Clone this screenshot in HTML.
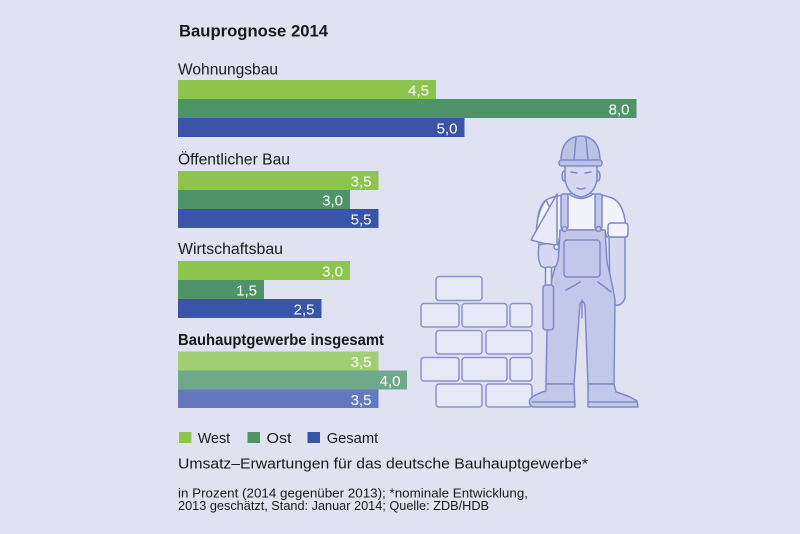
<!DOCTYPE html>
<html><head><meta charset="utf-8"><style>
html,body{margin:0;padding:0;background:#e0e1f1;}
svg{display:block;}
text{font-family:"Liberation Sans",sans-serif;}
</style></head><body>
<svg width="800" height="534" viewBox="0 0 800 534" xmlns="http://www.w3.org/2000/svg">
<rect x="0" y="0" width="800" height="534" fill="#e0e1f1"/>

<text x="179" y="36.5" font-size="17" font-weight="bold" fill="#1a1a1a" textLength="149" lengthAdjust="spacingAndGlyphs">Bauprognose 2014</text>

<text x="178" y="74.3" font-size="15.5" fill="#1a1a1a" textLength="100" lengthAdjust="spacingAndGlyphs">Wohnungsbau</text>
<rect x="178" y="80" width="258" height="19" fill="#8cc44e"/>
<rect x="178" y="99" width="458.5" height="19" fill="#4f9468"/>
<rect x="178" y="118" width="286.5" height="19" fill="#3a55a8"/>
<g font-size="15" fill="#ffffff" text-anchor="end">
<text x="429" y="95.5">4,5</text>
<text x="629.5" y="114.5">8,0</text>
<text x="457.5" y="133.5">5,0</text>
</g>

<text x="178" y="164.3" font-size="15.5" fill="#1a1a1a" textLength="112" lengthAdjust="spacingAndGlyphs">Öffentlicher Bau</text>
<rect x="178" y="171" width="200.5" height="19" fill="#8cc44e"/>
<rect x="178" y="190" width="172" height="19" fill="#4f9468"/>
<rect x="178" y="209" width="200.5" height="19" fill="#3a55a8"/>
<g font-size="15" fill="#ffffff" text-anchor="end">
<text x="371.5" y="186.5">3,5</text>
<text x="343" y="205.5">3,0</text>
<text x="371.5" y="224.5">5,5</text>
</g>

<text x="178" y="254" font-size="15.5" fill="#1a1a1a" textLength="105" lengthAdjust="spacingAndGlyphs">Wirtschaftsbau</text>
<rect x="178" y="261" width="172" height="19" fill="#8cc44e"/>
<rect x="178" y="280" width="86" height="19" fill="#4f9468"/>
<rect x="178" y="299" width="143.5" height="19" fill="#3a55a8"/>
<g font-size="15" fill="#ffffff" text-anchor="end">
<text x="343" y="276.5">3,0</text>
<text x="257" y="295.5">1,5</text>
<text x="314.5" y="314.5">2,5</text>
</g>

<text x="178" y="345" font-size="15.5" font-weight="bold" fill="#1a1a1a" textLength="206" lengthAdjust="spacingAndGlyphs">Bauhauptgewerbe insgesamt</text>
<rect x="178" y="351.5" width="200.5" height="19" fill="#a3cf74"/>
<rect x="178" y="370.5" width="229" height="19" fill="#70a98a"/>
<rect x="178" y="389.5" width="200.5" height="18.5" fill="#6478c0"/>
<g font-size="15" fill="#ffffff" text-anchor="end">
<text x="371.5" y="367">3,5</text>
<text x="400.5" y="386">4,0</text>
<text x="371.5" y="405">3,5</text>
</g>

<!-- legend -->
<rect x="179" y="432" width="12.5" height="11" fill="#8cc44e"/>
<text x="197.7" y="443" font-size="15" fill="#1a1a1a" textLength="32.5" lengthAdjust="spacingAndGlyphs">West</text>
<rect x="247.5" y="432" width="12.5" height="11" fill="#4f9468"/>
<text x="266.5" y="443" font-size="15" fill="#1a1a1a" textLength="25" lengthAdjust="spacingAndGlyphs">Ost</text>
<rect x="307.5" y="432" width="12.5" height="11" fill="#3a55a8"/>
<text x="326.7" y="443" font-size="15" fill="#1a1a1a" textLength="51.5" lengthAdjust="spacingAndGlyphs">Gesamt</text>

<text x="178" y="468.3" font-size="14.5" fill="#1a1a1a" textLength="410" lengthAdjust="spacingAndGlyphs">Umsatz–Erwartungen für das deutsche Bauhauptgewerbe*</text>
<text x="178" y="497.5" font-size="13" fill="#1a1a1a" textLength="350" lengthAdjust="spacingAndGlyphs">in Prozent (2014 gegenüber 2013); *nominale Entwicklung,</text>
<text x="178" y="510" font-size="13" fill="#1a1a1a" textLength="311" lengthAdjust="spacingAndGlyphs">2013 geschätzt, Stand: Januar 2014; Quelle: ZDB/HDB</text>

<!-- bricks -->
<g fill="#e7e8f6" stroke="#8a93cf" stroke-width="1.5">
<rect x="436" y="276.5" width="46" height="24" rx="3"/>
<rect x="421" y="303.5" width="38" height="23.5" rx="3"/>
<rect x="462" y="303.5" width="45" height="23.5" rx="3"/>
<rect x="510" y="303.5" width="22" height="23.5" rx="3"/>
<rect x="436" y="330.5" width="46" height="23.5" rx="3"/>
<rect x="486" y="330.5" width="46" height="23.5" rx="3"/>
<rect x="421" y="357.5" width="38" height="23.5" rx="3"/>
<rect x="462" y="357.5" width="45" height="23.5" rx="3"/>
<rect x="510" y="357.5" width="22" height="23.5" rx="3"/>
<rect x="436" y="384" width="46" height="23" rx="3"/>
<rect x="486" y="384" width="46" height="23" rx="3"/>
</g>

<!-- worker -->
<g stroke="#7f89c8" stroke-width="1.5" stroke-linejoin="round" stroke-linecap="round">
<!-- right arm hanging (viewer right) -->
<path d="M609,234 L625,234 L625,298 Q622,306 616,305 Q610,304 610,296 Z" fill="#d5d8f0"/>
<!-- shirt -->
<path d="M568,194 Q554,196 546,200 Q538,207 537,225 L539,245 L558,246 L561,230 L604,230 L607,237 L627,237 L625,220 Q622,202 612,198 Q601,194 593,194 Z" fill="#f2f3fb"/>
<!-- sleeve cuff -->
<rect x="608" y="223" width="20" height="14" rx="3" fill="#f2f3fb"/>
<!-- overalls -->
<path d="M560,230 L605,230 L607,262 Q612,282 615,300 L614,384 L588,384 L585,306 Q583,298 580,304 L574,384 L546,384 L547,330 Q546,300 550,285 Q556,266 559,250 Z" fill="#c3c8ea"/>
<path d="M566,290 Q574,286 580,282 M598,282 Q605,287 611,292 M582,300 L582,318" fill="none"/>
<!-- straps -->
<rect x="561" y="194" width="7" height="35" rx="2" fill="#c3c8ea"/>
<rect x="595" y="194" width="7" height="35" rx="2" fill="#c3c8ea"/>
<circle cx="564.5" cy="229" r="2.5" fill="#c3c8ea"/>
<circle cx="598.5" cy="229" r="2.5" fill="#c3c8ea"/>
<!-- pocket -->
<rect x="564" y="240" width="36" height="37" rx="3" fill="#c3c8ea"/>
<!-- collar / neck -->
<path d="M569,194 Q581,203 593,194" fill="#d5d8f0"/>
<!-- face -->
<ellipse cx="564.5" cy="176" rx="2.5" ry="5" fill="#d5d8f0"/>
<ellipse cx="597.5" cy="176" rx="2.5" ry="5" fill="#d5d8f0"/>
<path d="M565,162 L565,180 Q568,195 581,197 Q594,195 597,180 L597,162 Z" fill="#d5d8f0"/>
<path d="M571,172 L577,173 M585,173 L591,172 M577,188 Q581,190 585,188" fill="none"/>
<!-- helmet -->
<path d="M561,164 Q560,137 581,136 Q601,137 600,164 Z" fill="#bcc2e6"/>
<rect x="559" y="160" width="43" height="6" rx="2.5" fill="#bcc2e6"/>
<path d="M576,138 L574,160 M586,138 L588,160" fill="none"/>
<!-- left upper arm -->
<path d="M546,200 Q536,212 536,240 L546,244 L552,212 Z" fill="#f2f3fb"/>
<!-- trowel blade -->
<path d="M531,240 L557,194 L557,247 Z" fill="#e9eaf7"/>
<!-- hand -->
<path d="M539,245 Q537,258 541,266 Q547,270 556,266 Q560,258 558,246 Q548,242 539,245 Z" fill="#d5d8f0"/>
<circle cx="556.5" cy="247" r="2.5" fill="#e9eaf7"/>
<!-- hanging tool -->
<rect x="545.5" y="267" width="6" height="20" rx="2" fill="#e9eaf7"/>
<rect x="543" y="285" width="10.5" height="45" rx="3" fill="#c3c8ea"/>
<!-- boots -->
<path d="M546,384 L574,384 L575,407 L533,407 Q528,405 530,399 Q535,394 546,391 Z" fill="#c3c8ea"/>
<path d="M588,384 L614,384 L616,392 Q630,396 637,401 L638,407 L588,407 Z" fill="#c3c8ea"/>
<path d="M532,402 L575,402 M588,402 L637,402" fill="none"/>
</g>
</svg>
</body></html>
